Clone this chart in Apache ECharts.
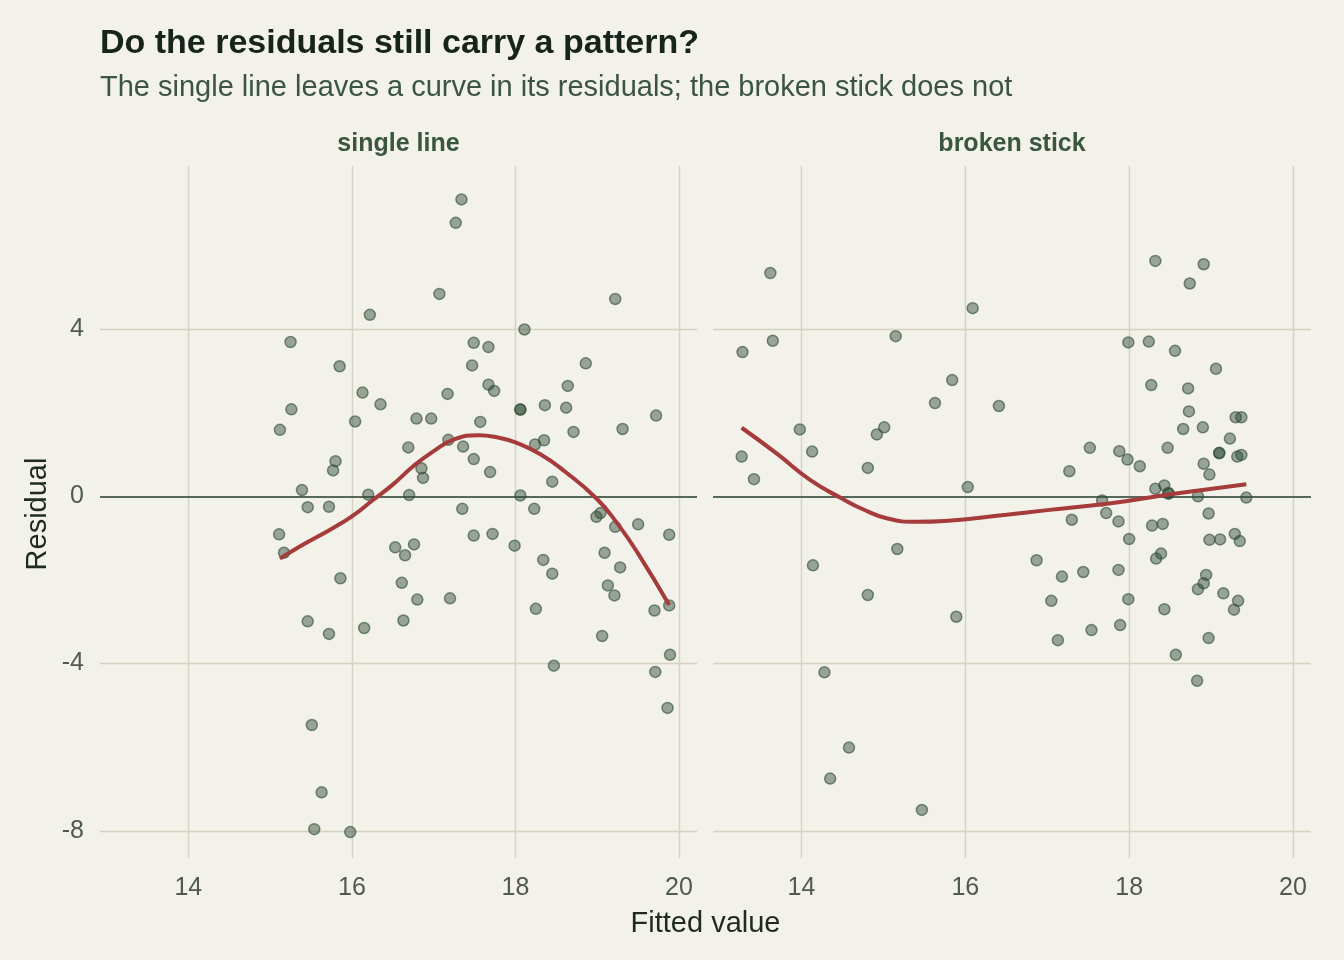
<!DOCTYPE html>
<html>
<head>
<meta charset="utf-8">
<title>Do the residuals still carry a pattern?</title>
<script src="https://cdn.jsdelivr.net/npm/echarts@6/dist/echarts.min.js"></script>
<style>
  html, body { margin: 0; padding: 0; background: #f2f1ea; }
  #chart { width: 1344px; height: 960px; }
</style>
</head>
<body>
<div id="chart"></div>
<script>
// residuals of the single line fit
var singleX = [16.22, 15.25, 15.85, 16.13, 16.35, 15.26, 16.04, 15.12, 15.80, 15.77, 15.39, 16.20,
  17.34, 17.27, 17.07, 19.22, 18.11, 17.49, 17.67, 17.47, 18.86, 17.67, 17.74, 18.64, 17.17,
  18.06, 18.06, 18.36, 18.62, 16.79, 16.97, 17.57, 19.72, 19.31, 18.71, 17.18, 18.35, 18.24,
  16.69, 17.36, 17.49, 17.69, 16.85, 16.87, 18.45, 16.70, 18.06, 15.46, 15.72, 15.11, 15.17,
  16.53, 15.86, 15.46, 15.72, 16.15, 15.51, 15.63, 15.54, 15.98, 17.35, 18.23, 18.99, 19.04,
  19.22, 19.50, 19.88, 17.49, 17.72, 16.76, 16.65, 17.99, 18.34, 18.45, 19.09, 19.28, 16.61,
  19.13, 19.21, 16.80, 17.20, 18.25, 19.70, 19.88, 16.63, 19.06, 18.47, 19.89, 19.71, 19.86];
var singleY = [4.34, 3.69, 3.11, 2.48, 2.20, 2.08, 1.79, 1.59, 0.84, 0.62, 0.15, 0.04,
  7.10, 6.54, 4.84, 4.72, 3.99, 3.67, 3.57, 3.13, 3.18, 2.67, 2.52, 2.64, 2.45,
  2.07, 2.08, 2.18, 2.12, 1.86, 1.86, 1.78, 1.93, 1.61, 1.54, 1.35, 1.34, 1.24,
  1.17, 1.19, 0.89, 0.58, 0.67, 0.44, 0.35, 0.03, 0.02, -0.26, -0.25, -0.91, -1.35,
  -1.22, -1.96, -2.99, -3.29, -3.15, -5.47, -7.08, -7.96, -8.03, -0.30, -0.30, -0.49, -0.40,
  -0.73, -0.67, -0.92, -0.94, -0.90, -1.15, -1.41, -1.18, -1.52, -1.85, -1.35, -1.70, -2.07,
  -2.13, -2.37, -2.47, -2.44, -2.69, -2.73, -2.61, -2.97, -3.34, -4.05, -3.79, -4.20, -5.06];

// residuals of the broken stick fit
var stickX = [13.62, 16.09, 13.28, 13.65, 15.15, 15.84, 15.63, 16.41, 13.98, 15.01, 14.92, 13.27,
  14.13, 14.81, 13.42, 16.03, 18.32, 18.91, 18.74, 17.99, 18.24, 18.56, 19.06, 18.27, 18.72,
  18.73, 19.30, 19.37, 18.66, 18.90, 19.23, 17.52, 17.88, 18.47, 19.10, 19.10, 19.32, 19.37,
  17.27, 17.98, 18.13, 18.91, 18.98, 18.32, 18.43, 18.48, 18.48, 17.67, 18.84, 19.43, 17.72,
  17.30, 17.87, 18.28, 18.41, 18.97, 18.00, 18.98, 19.11, 19.29, 19.35, 16.87, 18.39, 18.33,
  17.18, 17.44, 17.87, 18.94, 18.91, 18.84, 19.15, 19.33, 19.28, 17.05, 17.99, 18.43, 17.13,
  17.54, 17.89, 18.97, 18.57, 18.83, 15.17, 14.14, 14.81, 15.89, 14.28, 14.58, 14.35, 15.47];
var stickY = [5.34, 4.50, 3.45, 3.72, 3.83, 2.78, 2.23, 2.16, 1.60, 1.65, 1.48, 0.95,
  1.07, 0.68, 0.41, 0.22, 5.63, 5.55, 5.09, 3.68, 3.70, 3.48, 3.05, 2.66, 2.58,
  2.03, 1.89, 1.89, 1.61, 1.65, 1.38, 1.16, 1.08, 1.16, 1.03, 1.04, 0.95, 0.99,
  0.60, 0.88, 0.72, 0.78, 0.52, 0.18, 0.26, 0.08, 0.06, -0.10, 0.00, -0.03, -0.40,
  -0.56, -0.60, -0.70, -0.66, -0.41, -1.02, -1.04, -1.03, -0.90, -1.07, -1.53, -1.37, -1.49,
  -1.92, -1.81, -1.76, -1.88, -2.08, -2.22, -2.32, -2.50, -2.71, -2.50, -2.46, -2.70, -3.44,
  -3.20, -3.08, -3.39, -3.79, -4.41, -1.26, -1.65, -2.36, -2.88, -4.21, -6.01, -6.75, -7.50];

// smoothed trend through the residuals
var singleCurveX = [15.12, 15.4, 15.75, 16.0, 16.25, 16.5, 16.75, 17.0, 17.25, 17.55, 17.8, 18.0, 18.3, 18.6, 19.0, 19.25, 19.5, 19.88];
var singleCurveY = [-1.49, -1.16, -0.78, -0.48, -0.10, 0.28, 0.72, 1.08, 1.36, 1.46, 1.40, 1.29, 1.01, 0.60, -0.07, -0.66, -1.37, -2.60];
var stickCurveX = [13.27, 13.7, 14.1, 14.5, 14.75, 15.05, 15.4, 15.75, 16.5, 17.0, 17.8, 18.4, 18.85, 19.43];
var stickCurveY = [1.64, 1.02, 0.40, -0.06, -0.31, -0.53, -0.61, -0.59, -0.44, -0.33, -0.16, 0.02, 0.14, 0.29];

var panels = ['single line', 'broken stick'];
var xTicks = [14, 16, 18, 20];
var yTicks = [-8, -4, 0, 4];

var font = '"Liberation Sans", Arial, Helvetica, sans-serif';
var gridColor = '#d4d3c2';

function pairs(xs, ys) {
  return xs.map(function (x, i) { return [x, ys[i]]; });
}

function gridLines() {
  var d = [];
  xTicks.forEach(function (v) { d.push({ xAxis: v }); });
  yTicks.forEach(function (v) {
    if (v === 0) {
      d.push({ yAxis: v, lineStyle: { color: '#56685b', width: 2 } });
    } else {
      d.push({ yAxis: v });
    }
  });
  return {
    silent: true,
    symbol: 'none',
    z: 1,
    label: { show: false },
    lineStyle: { color: gridColor, width: 1.4, type: 'solid' },
    data: d
  };
}

function xAxisFor(i) {
  return {
    type: 'value', gridIndex: i, min: 12.92, max: 20.22,
    axisLine: { show: false }, axisTick: { show: false }, splitLine: { show: false },
    axisLabel: { customValues: xTicks, color: '#4f5a52', fontSize: 25, fontFamily: font, margin: 18 }
  };
}

function yAxisFor(i) {
  return {
    type: 'value', gridIndex: i, min: -8.65, max: 7.9,
    axisLine: { show: false }, axisTick: { show: false }, splitLine: { show: false },
    axisLabel: { show: i === 0, customValues: yTicks, color: '#4f5a52', fontSize: 25, fontFamily: font, margin: 16 }
  };
}

var pointStyle = {
  color: 'rgba(44,74,52,0.58)',
  borderColor: 'rgba(44,74,52,0.75)',
  borderWidth: 1.5
};

var option = {
  backgroundColor: '#f2f1ea',
  animation: false,
  grid: [
    { left: 100, top: 166, width: 597, height: 692 },
    { left: 713, top: 166, width: 598, height: 692 }
  ],
  xAxis: [xAxisFor(0), xAxisFor(1)],
  yAxis: [yAxisFor(0), yAxisFor(1)],
  graphic: [
    { type: 'text', left: 100, top: 27, style: { text: 'Do the residuals still carry a pattern?', font: 'bold 34px ' + font, fill: '#17241b' } },
    { type: 'text', left: 100, top: 73, style: { text: 'The single line leaves a curve in its residuals; the broken stick does not', font: '29px ' + font, fill: '#3c5443' } },
    { type: 'text', x: 398.5, y: 144, style: { text: panels[0], font: 'bold 25px ' + font, fill: '#3a5640', align: 'center', verticalAlign: 'middle' } },
    { type: 'text', x: 1012, y: 144, style: { text: panels[1], font: 'bold 25px ' + font, fill: '#3a5640', align: 'center', verticalAlign: 'middle' } },
    { type: 'text', x: 705.5, y: 924, style: { text: 'Fitted value', font: '29px ' + font, fill: '#1f2a22', align: 'center', verticalAlign: 'middle' } },
    { type: 'text', x: 38, y: 514, rotation: Math.PI / 2, style: { text: 'Residual', font: '29px ' + font, fill: '#1f2a22', align: 'center', verticalAlign: 'middle' } }
  ],
  series: [
    {
      name: panels[0], type: 'scatter', xAxisIndex: 0, yAxisIndex: 0, z: 3,
      symbolSize: 11, itemStyle: pointStyle, data: pairs(singleX, singleY)
    },
    {
      name: panels[1], type: 'scatter', xAxisIndex: 1, yAxisIndex: 1, z: 3,
      symbolSize: 11, itemStyle: pointStyle, data: pairs(stickX, stickY)
    },
    {
      name: panels[0] + ' trend', type: 'line', xAxisIndex: 0, yAxisIndex: 0, z: 4,
      smooth: true, showSymbol: false, symbol: 'none',
      lineStyle: { color: '#a53b3b', width: 4 },
      data: pairs(singleCurveX, singleCurveY),
      markLine: gridLines()
    },
    {
      name: panels[1] + ' trend', type: 'line', xAxisIndex: 1, yAxisIndex: 1, z: 4,
      smooth: true, showSymbol: false, symbol: 'none',
      lineStyle: { color: '#a53b3b', width: 4 },
      data: pairs(stickCurveX, stickCurveY),
      markLine: gridLines()
    }
  ]
};

var myChart = echarts.init(document.getElementById('chart'));
myChart.setOption(option);
</script>
</body>
</html>
